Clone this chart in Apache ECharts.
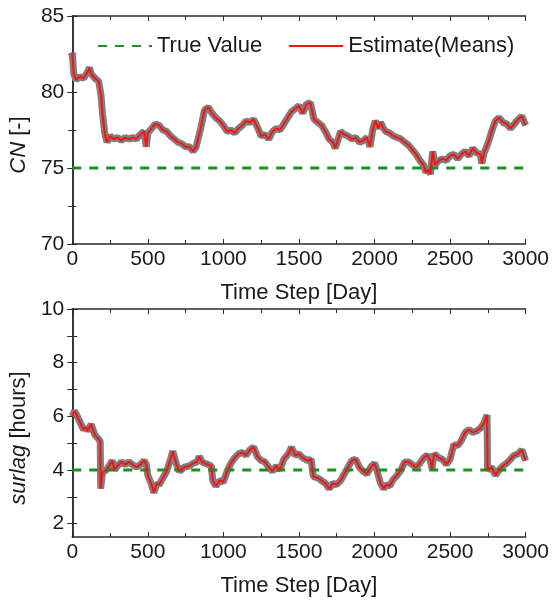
<!DOCTYPE html>
<html>
<head>
<meta charset="utf-8">
<script src="https://cdn.jsdelivr.net/npm/echarts@6/dist/echarts.min.js"></script>
<style>
  html, body { margin: 0; padding: 0; background: #fff; }
  #main { width: 552px; height: 604px; }
</style>
</head>
<body>
<div id="main"></div>
<script>
// top panel: CN
var cnDays = [0, 10, 25, 50, 75, 100, 115, 125, 150, 175, 190, 200, 215, 230, 250, 275, 300, 325, 350, 375,
  400, 425, 450, 475, 490, 500, 525, 550, 575, 600, 625, 650, 675, 700, 725, 750, 775, 800, 820, 850,
  875, 900, 925, 950, 975, 1000, 1025, 1050, 1075, 1100, 1125, 1150, 1175, 1200, 1225, 1250, 1275, 1300, 1325, 1350,
  1375, 1400, 1425, 1450, 1475, 1500, 1525, 1550, 1575, 1600, 1625, 1650, 1675, 1700, 1725, 1740, 1760, 1775, 1800, 1825,
  1850, 1875, 1900, 1925, 1950, 1970, 1990, 2005, 2025, 2040, 2060, 2075, 2100, 2125, 2150, 2175, 2200, 2225, 2250, 2275,
  2300, 2325, 2340, 2355, 2370, 2385, 2400, 2425, 2450, 2475, 2500, 2525, 2550, 2575, 2600, 2625, 2650, 2675, 2700, 2710,
  2725, 2750, 2775, 2800, 2825, 2850, 2875, 2900, 2925, 2950, 2975, 3000];
var cnMean = [82.6, 81.2, 80.8, 81.0, 80.9, 81.3, 81.6, 81.2, 80.9, 80.7, 79.8, 78.6, 77.3, 76.7, 77.1, 76.9, 77.0, 76.8, 77.0, 76.9,
  77.0, 76.9, 77.2, 77.4, 76.4, 77.3, 77.6, 77.9, 77.8, 77.5, 77.4, 77.1, 76.9, 76.7, 76.6, 76.4, 76.4, 76.1, 76.4, 77.6,
  78.8, 79.0, 78.6, 78.3, 78.1, 77.8, 77.4, 77.5, 77.3, 77.6, 77.8, 78.1, 78.0, 78.2, 77.7, 77.1, 77.2, 76.9, 77.4, 77.6,
  77.5, 77.9, 78.3, 78.7, 78.9, 79.1, 78.6, 79.2, 79.3, 78.2, 78.0, 77.8, 77.4, 76.9, 76.7, 76.3, 76.9, 77.4, 77.2, 77.1,
  76.9, 77.0, 76.7, 76.8, 77.0, 76.4, 77.6, 78.1, 77.6, 78.0, 77.6, 77.4, 77.3, 77.1, 77.0, 76.9, 76.7, 76.5, 76.2, 75.9,
  75.5, 75.2, 74.7, 74.9, 74.6, 76.1, 75.2, 75.5, 75.6, 75.5, 75.8, 75.9, 75.6, 75.9, 76.1, 75.8, 76.3, 76.0, 75.9, 75.3,
  76.0, 76.6, 77.4, 78.1, 78.3, 78.0, 77.9, 77.6, 77.9, 78.2, 78.4, 77.8];
var cnTrue = 75;

// bottom panel: surlag
var surDays = [0, 15, 25, 50, 75, 90, 100, 125, 150, 175, 185, 188, 200, 225, 250, 265, 280, 300, 325, 350,
  375, 400, 425, 450, 475, 490, 500, 525, 540, 560, 575, 600, 625, 650, 665, 690, 710, 740, 775, 800,
  825, 840, 860, 875, 900, 920, 930, 950, 975, 1000, 1025, 1050, 1075, 1100, 1125, 1150, 1175, 1200, 1225, 1250,
  1275, 1300, 1325, 1350, 1375, 1400, 1430, 1450, 1475, 1500, 1525, 1560, 1580, 1595, 1625, 1650, 1675, 1700, 1725, 1750,
  1775, 1800, 1825, 1850, 1875, 1900, 1925, 1950, 1975, 2000, 2015, 2040, 2060, 2080, 2100, 2125, 2150, 2175, 2200, 2225,
  2250, 2275, 2300, 2325, 2350, 2370, 2380, 2395, 2425, 2450, 2475, 2500, 2525, 2550, 2575, 2600, 2625, 2650, 2675, 2700,
  2725, 2745, 2748, 2775, 2800, 2825, 2850, 2875, 2900, 2925, 2950, 2975, 3000];
var surMean = [6.0, 6.2, 6.1, 5.8, 5.5, 5.6, 5.45, 5.7, 5.3, 5.15, 5.05, 3.3, 3.9, 4.0, 4.2, 4.35, 4.0, 4.15, 4.3, 4.2,
  4.3, 4.2, 4.1, 4.2, 4.35, 4.2, 3.8, 3.45, 3.15, 3.5, 3.45, 3.7, 3.95, 4.4, 4.7, 4.2, 3.95, 4.1, 4.15, 4.25,
  4.3, 4.5, 4.3, 4.25, 4.2, 4.15, 3.6, 3.4, 3.6, 3.55, 3.95, 4.25, 4.45, 4.6, 4.65, 4.55, 4.75, 4.85, 4.5, 4.35,
  4.3, 4.1, 3.95, 4.15, 4.0, 4.4, 4.6, 4.85, 4.55, 4.6, 4.45, 4.35, 4.4, 3.75, 3.7, 3.6, 3.5, 3.3, 3.5, 3.45,
  3.6, 3.85, 4.1, 4.35, 4.4, 4.1, 3.95, 3.85, 4.1, 4.25, 4.0, 3.5, 3.3, 3.45, 3.4, 3.65, 3.8, 4.0, 4.3, 4.3,
  4.2, 4.1, 4.25, 4.45, 4.55, 4.35, 4.05, 4.6, 4.45, 4.4, 4.2, 4.4, 4.95, 4.9, 5.1, 5.4, 5.5, 5.4, 5.45, 5.55,
  5.75, 6.05, 4.0, 4.1, 3.8, 4.0, 4.15, 4.25, 4.4, 4.55, 4.6, 4.75, 4.35];
var surTrue = 4;

var surTicks = [2, 4, 6, 8, 10];
var surMinor = [2, 3, 4, 5, 6, 7, 8, 9, 10];

function zip(xs, ys) {
  return xs.map(function (x, i) { return [x, ys[i]]; });
}

var font = 'Arial, "Liberation Sans", sans-serif';
var ink = '#1a1a1a';
var frame = { lineStyle: { color: '#2b2b2b', width: 1.5 } };
var tick = { inside: true, length: 5, lineStyle: { color: '#2b2b2b' } };
var minor = { show: true, splitNumber: 2, length: 4, lineStyle: { color: '#2b2b2b' } };
var gray = '#7f7f7f', red = '#ff1010', green = '#1f8f1f';

function plain(v) { return String(v); }

function xAx(grid) {
  return [{
    type: 'value', gridIndex: grid, min: 0, max: 3000, interval: 500,
    axisLine: frame, splitLine: { show: false }, axisTick: tick, minorTick: minor,
    axisLabel: { fontSize: 21, color: ink, fontFamily: font, margin: 5, formatter: plain },
    name: 'Time Step [Day]', nameLocation: 'middle', nameGap: 38,
    nameTextStyle: { fontSize: 22, color: ink, fontFamily: font }
  }, {
    type: 'value', gridIndex: grid, position: 'top', min: 0, max: 3000, interval: 500,
    axisLine: frame, splitLine: { show: false }, axisTick: tick, minorTick: minor,
    axisLabel: { show: false }
  }];
}

var nameStyle = {
  fontSize: 22, color: ink, fontFamily: font, padding: [0, 30, 0, 0],
  rich: { i: { fontStyle: 'italic', fontSize: 22, fontFamily: font, color: ink } }
};

var option = {
  animation: false,
  backgroundColor: '#fff',
  grid: [
    { left: 72, right: 24, top: 16, height: 228 },
    { left: 72, right: 24, top: 309, height: 228 }
  ],
  legend: {
    left: 92, top: 30, itemWidth: 54, itemHeight: 14, itemGap: 26,
    itemStyle: { opacity: 0 },
    textStyle: { fontSize: 22, color: ink, fontFamily: font },
    data: ['True Value', 'Estimate(Means)']
  },
  xAxis: xAx(0).concat(xAx(1)),
  yAxis: [
    {
      type: 'value', gridIndex: 0, min: 70, max: 85, interval: 5,
      axisLine: frame, splitLine: { show: false }, axisTick: tick, minorTick: minor,
      axisLabel: { fontSize: 21, color: ink, fontFamily: font, margin: 8 },
      name: '{i|CN} [-]', nameLocation: 'middle', nameGap: 38, nameTextStyle: nameStyle
    },
    {
      type: 'value', gridIndex: 0, position: 'right', min: 70, max: 85, interval: 5,
      axisLine: frame, splitLine: { show: false }, axisTick: tick, minorTick: minor,
      axisLabel: { show: false }
    },
    {
      type: 'value', gridIndex: 1, min: 1.5, max: 10,
      axisLine: frame, splitLine: { show: false },
      axisTick: { inside: true, length: 5, customValues: surMinor, lineStyle: { color: '#2b2b2b' } },
      axisLabel: { fontSize: 21, color: ink, fontFamily: font, margin: 8, customValues: surTicks },
      name: '{i|surlag} [hours]', nameLocation: 'middle', nameGap: 38, nameTextStyle: nameStyle
    },
    {
      type: 'value', gridIndex: 1, position: 'right', min: 1.5, max: 10,
      axisLine: frame, splitLine: { show: false },
      axisTick: { inside: true, length: 5, customValues: surMinor, lineStyle: { color: '#2b2b2b' } },
      axisLabel: { show: false }
    }
  ],
  series: [
    {
      name: 'spread', type: 'line', xAxisIndex: 0, yAxisIndex: 0, data: zip(cnDays, cnMean),
      symbol: 'none', lineStyle: { color: gray, width: 7 }, silent: true, z: 1
    },
    {
      name: 'True Value', type: 'line', xAxisIndex: 0, yAxisIndex: 0, data: [[0, cnTrue], [3000, cnTrue]],
      symbol: 'none', color: green, lineStyle: { color: green, width: 3, type: [9, 8] }, z: 2
    },
    {
      name: 'Estimate(Means)', type: 'line', xAxisIndex: 0, yAxisIndex: 0, data: zip(cnDays, cnMean),
      symbol: 'none', color: red, lineStyle: { color: red, width: 2 }, z: 3
    },
    {
      name: 'spread', type: 'line', xAxisIndex: 2, yAxisIndex: 2, data: zip(surDays, surMean),
      symbol: 'none', lineStyle: { color: gray, width: 7 }, silent: true, z: 1
    },
    {
      name: 'True Value', type: 'line', xAxisIndex: 2, yAxisIndex: 2, data: [[0, surTrue], [3000, surTrue]],
      symbol: 'none', color: green, lineStyle: { color: green, width: 3, type: [9, 8] }, z: 2
    },
    {
      name: 'Estimate(Means)', type: 'line', xAxisIndex: 2, yAxisIndex: 2, data: zip(surDays, surMean),
      symbol: 'none', color: red, lineStyle: { color: red, width: 2 }, z: 3
    }
  ]
};

var myChart = echarts.init(document.getElementById('main'));
myChart.setOption(option);
</script>
</body>
</html>
